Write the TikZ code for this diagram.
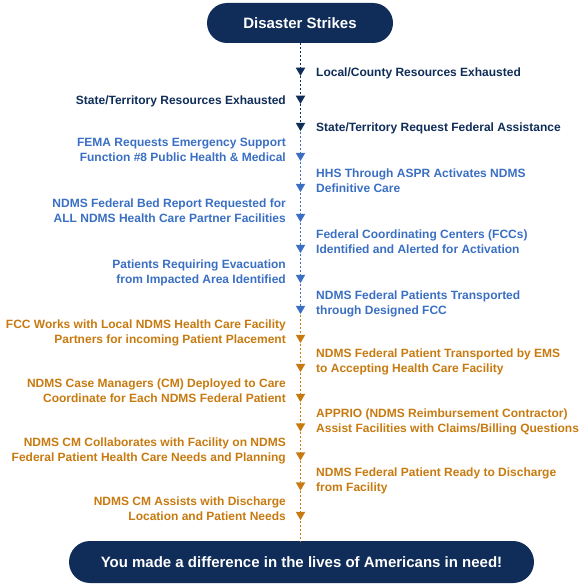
\documentclass[tikz,border=0pt]{standalone}
\usepackage{fontspec}
\setmainfont{Liberation Sans}
\usetikzlibrary{shapes.geometric}
\definecolor{navy}{HTML}{0F2D58}
\definecolor{mblue}{HTML}{3A6FC3}
\definecolor{ochre}{HTML}{C77A10}
\newcommand\mylabfont{\fontsize{12}{15}\selectfont\bfseries}
\newcommand\mypillfont{\fontsize{15}{18}\selectfont\bfseries}
\tikzset{
  pill/.style={rectangle, fill=navy, text=white, font=\mypillfont, inner sep=0pt},
  tri/.style={regular polygon, regular polygon sides=3, shape border rotate=180,
    minimum size=11pt, inner sep=0pt, fill=#1, draw=none},
  lblR/.style={anchor=base west, inner sep=0pt, text=#1, font=\mylabfont},
  lblL/.style={anchor=base east, inner sep=0pt, text=#1, font=\mylabfont},
  seg/.style={draw=#1, line width=1pt, dash pattern=on 2pt off 2pt}
}
\begin{document}
\begin{tikzpicture}[x=1pt,y=-1pt]
\useasboundingbox (0,0) rectangle (580,586);
\node[pill, minimum width=186pt, minimum height=40pt, rounded corners=20pt] (top) at (300,23) {Disaster Strikes};
\node[pill, minimum width=465pt, minimum height=42pt, rounded corners=21pt] (bot) at (301.5,562) {You made a difference in the lives of Americans in need!};
% triangles
\node[tri=navy]  (t1)  at (300.5,70.4) {};
\node[tri=navy]  (t2)  at (300.5,98.4) {};
\node[tri=navy]  (t3)  at (300.5,125.6) {};
\node[tri=mblue] (t4)  at (300.5,155.6) {};
\node[tri=mblue] (t5)  at (300.5,186.6) {};
\node[tri=mblue] (t6)  at (300.5,216.6) {};
\node[tri=mblue] (t7)  at (300.5,247.6) {};
\node[tri=mblue] (t8)  at (300.5,277.6) {};
\node[tri=mblue] (t9)  at (300.5,308.6) {};
\node[tri=ochre] (t10) at (300.5,337.6) {};
\node[tri=ochre] (t11) at (300.5,366.6) {};
\node[tri=ochre] (t12) at (300.5,396.6) {};
\node[tri=ochre] (t13) at (300.5,426.1) {};
\node[tri=ochre] (t14) at (300.5,455.1) {};
\node[tri=ochre] (t15) at (300.5,485.1) {};
\node[tri=ochre] (t16) at (300.5,514.6) {};
% connectors
\draw[seg=navy] (t1 |- top.south) -- (t1);
\draw[seg=navy] (t1) -- (t2);
\draw[seg=navy] (t2) -- (t3);
\draw[seg=mblue] (t3) -- (t4);
\draw[seg=mblue] (t4) -- (t5);
\draw[seg=mblue] (t5) -- (t6);
\draw[seg=mblue] (t6) -- (t7);
\draw[seg=mblue] (t7) -- (t8);
\draw[seg=mblue] (t8) -- (t9);
\draw[seg=ochre] (t9) -- (t10);
\draw[seg=ochre] (t10) -- (t11);
\draw[seg=ochre] (t11) -- (t12);
\draw[seg=ochre] (t12) -- (t13);
\draw[seg=ochre] (t13) -- (t14);
\draw[seg=ochre] (t14) -- (t15);
\draw[seg=ochre] (t15) -- (t16);
\draw[seg=ochre] (t16) -- (t16 |- bot.north);
% labels
\node[lblR=navy] (l1) at (316,76) {Local/County Resources Exhausted};
\node[lblL=navy] (l2) at (286,104) {State/Territory Resources Exhausted};
\node[lblR=navy] (l3) at (316,131) {State/Territory Request Federal Assistance};
\node[lblL=mblue] (l4) at (286,161) {\begin{tabular}[b]{@{}r@{}}FEMA Requests Emergency Support\\Function \#8 Public Health \& Medical\end{tabular}};
\node[lblR=mblue] (l5) at (316,192) {\begin{tabular}[b]{@{}l@{}}HHS Through ASPR Activates NDMS\\Definitive Care\end{tabular}};
\node[lblL=mblue] (l6) at (286,222) {\begin{tabular}[b]{@{}r@{}}NDMS Federal Bed Report Requested for\\ALL NDMS Health Care Partner Facilities\end{tabular}};
\node[lblR=mblue] (l7) at (316,253) {\begin{tabular}[b]{@{}l@{}}Federal Coordinating Centers (FCCs)\\Identified and Alerted for Activation\end{tabular}};
\node[lblL=mblue] (l8) at (286,283) {\begin{tabular}[b]{@{}r@{}}Patients Requiring Evacuation\\from Impacted Area Identified\end{tabular}};
\node[lblR=mblue] (l9) at (316,314) {\begin{tabular}[b]{@{}l@{}}NDMS Federal Patients Transported\\through Designed FCC\end{tabular}};
\node[lblL=ochre] (l10) at (286,343) {\begin{tabular}[b]{@{}r@{}}FCC Works with Local NDMS Health Care Facility\\Partners for incoming Patient Placement\end{tabular}};
\node[lblR=ochre] (l11) at (316,372) {\begin{tabular}[b]{@{}l@{}}NDMS Federal Patient Transported by EMS\\to Accepting Health Care Facility\end{tabular}};
\node[lblL=ochre] (l12) at (286,402) {\begin{tabular}[b]{@{}r@{}}NDMS Case Managers (CM) Deployed to Care\\Coordinate for Each NDMS Federal Patient\end{tabular}};
\node[lblR=ochre] (l13) at (316,432) {\begin{tabular}[b]{@{}l@{}}APPRIO (NDMS Reimbursement Contractor)\\Assist Facilities with Claims/Billing Questions\end{tabular}};
\node[lblL=ochre] (l14) at (286,461) {\begin{tabular}[b]{@{}r@{}}NDMS CM Collaborates with Facility on NDMS\\Federal Patient Health Care Needs and Planning\end{tabular}};
\node[lblR=ochre] (l15) at (316,491) {\begin{tabular}[b]{@{}l@{}}NDMS Federal Patient Ready to Discharge\\from Facility\end{tabular}};
\node[lblL=ochre] (l16) at (286,520) {\begin{tabular}[b]{@{}r@{}}NDMS CM Assists with Discharge\\Location and Patient Needs\end{tabular}};
\end{tikzpicture}
\end{document}
